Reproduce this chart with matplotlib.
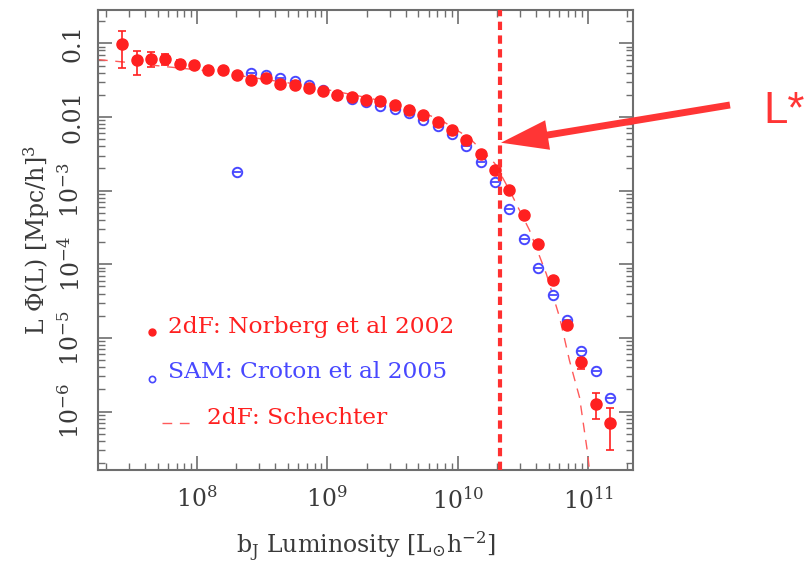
import numpy as np
import matplotlib
matplotlib.use("Agg")
import matplotlib.pyplot as plt
from matplotlib.patches import FancyArrowPatch
from matplotlib.transforms import IdentityTransform
from matplotlib.ticker import FixedLocator, LogLocator, NullFormatter

# ---------------- data (log10 values) ----------------
red_logL = [7.423, 7.538, 7.648, 7.757, 7.867, 7.977, 8.084, 8.197, 8.307, 8.416,
            8.526, 8.636, 8.749, 8.858, 8.968, 9.078, 9.188, 9.297, 9.407, 9.517,
            9.627, 9.737, 9.846, 9.959, 10.067, 10.177, 10.287, 10.391, 10.506,
            10.617, 10.728, 10.840, 10.947, 11.059, 11.167]
red_logPhi = [-1.014, -1.231, -1.209, -1.214, -1.277, -1.300, -1.367, -1.367, -1.427,
              -1.503, -1.472, -1.558, -1.563, -1.612, -1.649, -1.699, -1.722, -1.771,
              -1.789, -1.835, -1.903, -1.976, -2.061, -2.175, -2.316, -2.497, -2.720,
              -2.996, -3.332, -3.731, -4.216, -4.823, -5.332, -5.903, -6.152]
# error bar ends (log10)
red_logHi = [-0.833, -1.101, -1.118, -1.146, -1.230, -1.275, -1.350, -1.352, -1.415,
             -1.492, -1.462, -1.548, -1.553, -1.603, -1.641, -1.691, -1.714, -1.763,
             -1.781, -1.827, -1.895, -1.968, -2.053, -2.166, -2.306, -2.486, -2.707,
             -2.980, -3.313, -3.708, -4.188, -4.790, -5.273, -5.754, -5.952]
red_logLo = [-1.332, -1.427, -1.327, -1.291, -1.330, -1.327, -1.385, -1.383, -1.440,
             -1.515, -1.483, -1.569, -1.574, -1.622, -1.658, -1.708, -1.731, -1.780,
             -1.798, -1.844, -1.912, -1.985, -2.070, -2.185, -2.327, -2.509, -2.734,
             -3.013, -3.352, -3.755, -4.246, -4.858, -5.422, -6.102, -6.520]

blue_logL = [8.307, 8.416, 8.526, 8.636, 8.749, 8.858, 8.968, 9.078, 9.188, 9.297,
             9.407, 9.517, 9.627, 9.737, 9.846, 9.959, 10.067, 10.177, 10.287,
             10.391, 10.506, 10.617, 10.728, 10.840, 10.947, 11.059, 11.167]
blue_logPhi = [-2.741, -1.400, -1.435, -1.476, -1.517, -1.571, -1.635, -1.699, -1.758,
               -1.794, -1.844, -1.889, -1.952, -2.034, -2.125, -2.224, -2.397, -2.608,
               -2.887, -3.254, -3.663, -4.053, -4.415, -4.755, -5.173, -5.445, -5.816]
blue_logErr = [0.0, 0.0, 0.0, 0.0, 0.0, 0.0, 0.0, 0.0, 0.0, 0.0, 0.0, 0.0, 0.0, 0.0,
               0.0, 0.0, 0.0, 0.0, 0.0, 0.0, 0.0, 0.0, 0.0, 0.03, 0.045, 0.045, 0.06]

# Schechter fit curve
sch_logL = [7.241, 7.487, 7.793, 8.100, 8.406, 8.713, 9.019, 9.326, 9.632, 9.862,
            10.092, 10.284, 10.398, 10.552, 10.680, 10.782, 10.858, 10.935, 10.998, 11.011]
sch_logPhi = [-1.220, -1.262, -1.322, -1.377, -1.459, -1.540, -1.636, -1.744, -1.880,
              -2.030, -2.288, -2.629, -2.996, -3.540, -4.129, -4.720, -5.309, -5.808,
              -6.578, -6.805]

Lstar_logL = 10.322

x_major = [1e8, 1e9, 1e10, 1e11]
x_labels = [r'$10^{8}$', r'$10^{9}$', r'$10^{10}$', r'$10^{11}$']
y_major = [1e-1, 1e-2, 1e-3, 1e-4, 1e-5, 1e-6]
y_labels = ['0.1', '0.01', r'$10^{-3}$', r'$10^{-4}$', r'$10^{-5}$', r'$10^{-6}$']

legend_texts = ['2dF: Norberg et al 2002', 'SAM: Croton et al 2005', '2dF: Schechter']

# ---------------- style ----------------
plt.rcParams['font.family'] = ['DejaVu Serif']
plt.rcParams['mathtext.fontset'] = 'dejavuserif'

RED = '#ff2020'
BLUE = '#4848ff'
GRAY = '#6e6e6e'
TXT = '#3a3a3a'

fig = plt.figure(figsize=(8.07, 5.63), dpi=100)
ax = fig.add_axes([98/807, 1-470/563, (633-98)/807, (470-10)/563])
ax.set_xscale('log')
ax.set_yscale('log')
ax.set_xlim(10**7.241, 10**11.345)
ax.set_ylim(10**-6.793, 10**-0.547)

rL = 10**np.array(red_logL)
rP = 10**np.array(red_logPhi)
rHi = 10**np.array(red_logHi)
rLo = 10**np.array(red_logLo)
bL = 10**np.array(blue_logL)
bP = 10**np.array(blue_logPhi)
bE = np.array(blue_logErr)
bHi = 10**(np.array(blue_logPhi) + bE)
bLo = 10**(np.array(blue_logPhi) - bE)

# Schechter dashed
ax.plot(10**np.array(sch_logL), 10**np.array(sch_logPhi), color='#ff5a5a', lw=1.0,
        dashes=(7, 5.5), zorder=2)

# blue SAM points
ax.errorbar(bL, bP, yerr=[bP - bLo, bHi - bP], fmt='none', ecolor=BLUE, elinewidth=1.0,
            capsize=2.5, capthick=1.0, zorder=3)
ax.plot(bL, bP, 'o', ms=6.8, mfc='white', mec=BLUE, mew=1.4, zorder=3)
ax.plot(bL, bP, '_', ms=5.5, mec=BLUE, mew=1.3, zorder=3.1)

# red 2dF points
ax.errorbar(rL, rP, yerr=[rP - rLo, rHi - rP], fmt='none', ecolor=RED, elinewidth=1.2,
            capsize=3, capthick=1.2, zorder=4)
ax.plot(rL, rP, 'o', ms=8, color=RED, mec=RED, zorder=4)

# L* vertical line
ax.axvline(10**Lstar_logL, color='#ff3030', lw=3.0, dashes=(2.0, 1.3), zorder=5)

# ticks
ax.xaxis.set_major_locator(FixedLocator(x_major))
ax.set_xticklabels(x_labels)
ax.xaxis.set_minor_locator(LogLocator(base=10, subs=np.arange(2, 10), numticks=20))
ax.xaxis.set_minor_formatter(NullFormatter())
ax.yaxis.set_major_locator(FixedLocator(y_major))
ax.set_yticklabels(y_labels, rotation=90, va='center')
ax.yaxis.set_minor_locator(LogLocator(base=10, subs=np.arange(2, 10), numticks=20))
ax.yaxis.set_minor_formatter(NullFormatter())
ax.tick_params(which='both', direction='in', top=True, right=True, colors=GRAY,
               labelcolor=TXT, labelsize=17)
ax.tick_params(which='major', length=10, width=1.2)
ax.tick_params(which='minor', length=5, width=1.0)
ax.tick_params(axis='x', pad=12)
ax.tick_params(axis='y', pad=10)
for s in ax.spines.values():
    s.set_color(GRAY)
    s.set_linewidth(1.5)

ax.set_xlabel(r'b$_\mathrm{J}$ Luminosity [L$_{{\odot}}$h$^{-2}$]', fontsize=17, color=TXT,
              labelpad=12)
ax.set_ylabel(r'L $\Phi$(L) [Mpc/h]$^3$', fontsize=17, color=TXT, labelpad=4)

# manual legend
ax.plot([0.1004], [0.2993], 'o', ms=5, color=RED, transform=ax.transAxes, clip_on=False)
ax.text(0.1308, 0.2978, legend_texts[0], color=RED, fontsize=16.8, transform=ax.transAxes,
        va='baseline', ha='left')
ax.plot([0.1004], [0.1978], 'o', ms=4.5, mfc='white', mec=BLUE, mew=1.2,
        transform=ax.transAxes, clip_on=False)
ax.text(0.1308, 0.1993, legend_texts[1], color=BLUE, fontsize=16.8, transform=ax.transAxes,
        va='baseline', ha='left')
ax.plot([0.119, 0.172], [0.102, 0.102], color='#ff5a5a', lw=1.0, dashes=(7, 5.5),
        transform=ax.transAxes)
ax.text(0.203, 0.1, legend_texts[2], color=RED, fontsize=16.8, transform=ax.transAxes,
        va='baseline', ha='left')

# L* arrow and label (figure pixels)
arrow = FancyArrowPatch(posA=(730, 563-105), posB=(501, 563-142.7),
                        arrowstyle='simple,head_length=34,head_width=21.5,tail_width=5',
                        mutation_scale=1, color='#ff3535', lw=0,
                        shrinkA=0, shrinkB=0, transform=IdentityTransform())
fig.patches.append(arrow)
fig.text(763/807, 1-123/563, 'L*', fontsize=31.5, family='Liberation Sans', color='#ff3535',
         ha='left', va='baseline')

fig.savefig('out.png', dpi=100)
